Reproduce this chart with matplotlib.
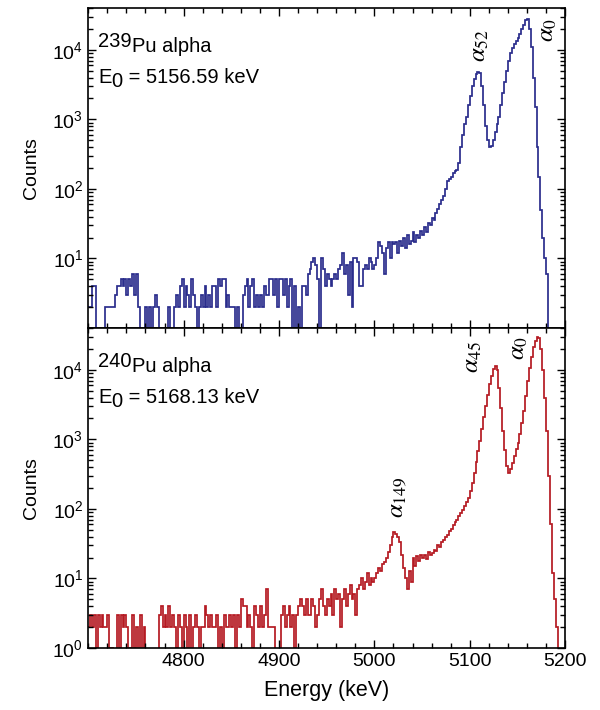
import numpy as np
import matplotlib.pyplot as plt
from matplotlib.ticker import MultipleLocator
from matplotlib.transforms import IdentityTransform

plt.rcParams['font.family'] = ['Liberation Sans', 'DejaVu Sans']
plt.rcParams['mathtext.fontset'] = 'custom'
plt.rcParams['mathtext.rm'] = 'Liberation Sans'
plt.rcParams['mathtext.it'] = 'Liberation Sans:italic'
plt.rcParams['mathtext.bf'] = 'Liberation Sans:bold'

# 2 keV bins, 4700 - 5200 keV
edges = np.arange(4700, 5201, 2)

pu239 = [
    2, 2, 4, 4, 0, 0, 0, 0, 0, 2, 2, 2, 2, 2, 3, 4, 4, 5, 4, 5, 3, 5, 4, 6, 3,
    6, 2, 0, 0, 0, 2, 0, 2, 0, 2, 3, 2, 0, 0, 0, 0, 0, 2, 0, 0, 2, 3, 2, 4, 5,
    2, 4, 3, 2, 5, 3, 2, 0, 2, 3, 2, 4, 2, 3, 2, 4, 4, 2, 5, 4, 5, 5, 2, 3, 2,
    2, 2, 0, 2, 0, 0, 3, 4, 5, 2, 4, 5, 2, 3, 2, 3, 2, 4, 3, 3, 5, 5, 3, 5, 2,
    5, 5, 3, 5, 2, 4, 5, 0, 4, 0, 2, 0, 4, 4, 3, 6, 7, 9, 10, 8, 5, 0, 10, 7, 4,
    6, 5, 4, 5, 6, 5, 7, 8, 12, 6, 8, 3, 9, 2, 10, 10, 9, 4, 4, 7, 8, 7, 10, 9, 7,
    8, 10, 17, 15, 12, 6, 14, 17, 10, 17, 16, 17, 12, 18, 15, 20, 14, 22, 16, 18, 24, 17, 22, 20, 25,
    22, 28, 24, 32, 30, 38, 36, 45, 52, 60, 70, 80, 100, 130, 140, 150, 170, 180, 190, 240, 400, 600, 850, 1100, 1600,
    2200, 3000, 3800, 4500, 4800, 4600, 3000, 1600, 800, 500, 400, 420, 500, 650, 850, 1100, 1600, 2400, 3400, 5000, 7000, 9000, 10500, 12000, 13500,
    15000, 17000, 20000, 23000, 27000, 28000, 20000, 11000, 4000, 1500, 400, 150, 50, 20, 10, 6, 0, 0, 0, 0, 0, 0, 0, 0, 0,
]

pu240 = [
    2, 3, 2, 3, 1, 3, 2, 3, 2, 2, 3, 1, 1, 0, 0, 3, 1, 3, 2, 3, 2, 0, 1, 3, 1,
    2, 0, 3, 0, 2, 0, 0, 0, 0, 0, 0, 0, 3, 4, 2, 3, 2, 4, 2, 3, 2, 1, 3, 2, 0,
    3, 2, 1, 3, 0, 2, 3, 2, 0, 2, 2, 4, 3, 2, 3, 2, 2, 3, 0, 2, 1, 3, 2, 2, 3,
    2, 3, 1, 3, 2, 5, 4, 4, 2, 3, 2, 1, 4, 3, 2, 4, 2, 3, 7, 2, 2, 2, 2, 0, 0,
    0, 3, 4, 2, 3, 4, 2, 3, 1, 3, 4, 5, 4, 3, 5, 3, 3, 5, 4, 2, 3, 5, 7, 4, 3,
    5, 4, 6, 3, 7, 5, 6, 2, 5, 7, 4, 6, 8, 5, 6, 3, 7, 8, 10, 7, 9, 12, 8, 10, 9,
    10, 12, 14, 13, 16, 17, 20, 24, 30, 40, 46, 44, 40, 34, 22, 14, 10, 7, 13, 9, 20, 15, 21, 18, 22,
    20, 22, 19, 24, 22, 23, 26, 25, 30, 28, 34, 36, 40, 42, 48, 52, 58, 64, 70, 78, 88, 98, 110, 125, 145,
    180, 240, 330, 480, 680, 950, 1400, 2100, 3000, 4300, 6200, 8300, 10200, 11300, 10000, 5500, 2800, 1300, 700, 420, 330, 380, 460, 580, 720,
    900, 1200, 1700, 2600, 4200, 7000, 10500, 15500, 21000, 26000, 30000, 29000, 20000, 10000, 4000, 1300, 300, 60, 12, 5, 2, 0, 0, 0, 0,
]

# (text, baseline shift in px)
titles = [[('239', 5), ('Pu alpha', 0)], [('240', 5), ('Pu alpha', 0)]]
e0_labels = [[('E', 0), ('0', -4), (' = 5156.59 keV', 0)],
             [('E', 0), ('0', -4), (' = 5168.13 keV', 0)]]
colors = ['#2A2D8C', '#B51A22']

# peak labels: (energy, counts at label bottom, text)
peaks_top = [(5110, 6700, r'$\alpha_{52}$'), (5181, 13000, r'$\alpha_{0}$')]
peaks_bot = [(5102, 9000, r'$\alpha_{45}$'), (5150.5, 13800, r'$\alpha_{0}$'),
             (5022.7, 75, r'$\alpha_{149}$')]

fig = plt.figure(figsize=(6, 7.1), dpi=100)
ax1 = fig.add_axes([0.147, 0.538, 0.795, 0.4507])
ax2 = fig.add_axes([0.147, 0.0873, 0.795, 0.4507], sharex=ax1)
renderer = fig.canvas.get_renderer()


def piece_text(ax, x, y, parts, size):
    # lay out pieces with full-size raised / lowered digits
    px, py = ax.transAxes.transform((x, y))
    for s, dy in parts:
        t = fig.text(px, py + dy, s, transform=IdentityTransform(),
                     fontsize=size, va='baseline', ha='left')
        px = t.get_window_extent(renderer).x1


for ax, counts, col, title, e0, peaks in zip([ax1, ax2], [pu239, pu240], colors,
                                            titles, e0_labels, [peaks_top, peaks_bot]):
    ax.stairs(counts, edges, color=col, lw=1.25, baseline=None)
    ax.set_yscale('log')
    ax.set_ylim(1, 4e4)
    ax.set_xlim(4700, 5200)
    ax.set_xticks([4800, 4900, 5000, 5100, 5200])
    ax.xaxis.set_minor_locator(MultipleLocator(20))
    ax.tick_params(which='both', direction='in', top=True, right=True,
                   labelsize=14, width=1)
    ax.tick_params(which='major', length=6)
    ax.tick_params(which='minor', length=3.5)
    for s in ax.spines.values():
        s.set_linewidth(1.2)
    ax.set_ylabel('Counts', fontsize=14)
    ax.yaxis.set_label_coords(-0.1, 0.5)
    piece_text(ax, 0.021, 0.8634, title, 14.5)
    piece_text(ax, 0.021, 0.7647, e0, 14.5)
    for e, c, lab in peaks:
        ax.text(e, c, lab, rotation=90, ha='center', va='bottom', fontsize=18,
                math_fontfamily='stix')

ax1.set_yticks([10, 100, 1000, 10000])
ax1.tick_params(labelbottom=False)
ax2.set_xlabel('Energy (keV)', fontsize=15.5)
ax2.xaxis.set_label_coords(0.5, -0.1)

fig.savefig('out.png', dpi=100)
